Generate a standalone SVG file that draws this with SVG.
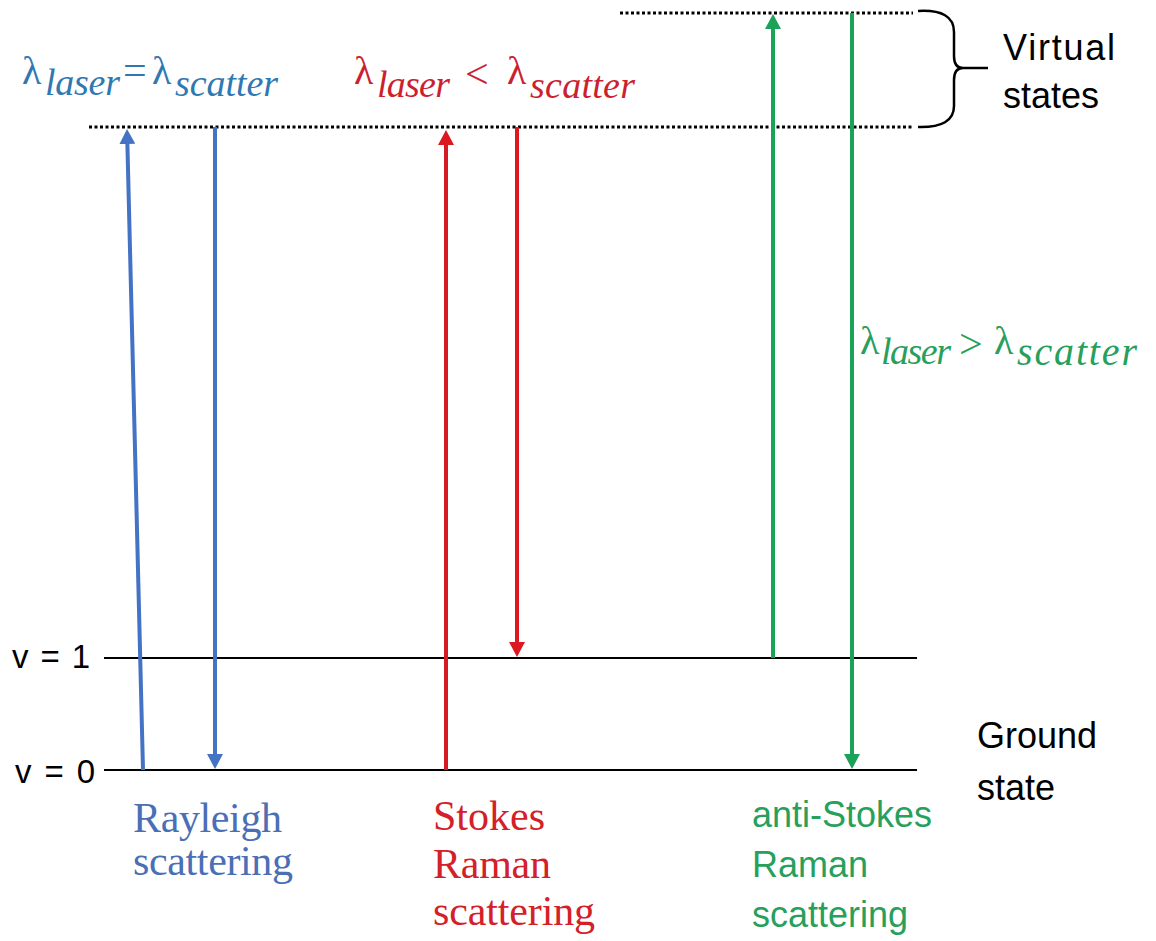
<svg xmlns="http://www.w3.org/2000/svg" width="1156" height="941" viewBox="0 0 1156 941">
<style>
.dot{stroke:#000;stroke-width:3;stroke-dasharray:3 2.5;fill:none}
.lvl{stroke:#000;stroke-width:2;fill:none}
.arr{stroke-width:4;fill:none}
.sans{font-family:"Liberation Sans",Arial,sans-serif;font-size:36px}
.serif{font-family:"Liberation Serif","Times New Roman",serif;font-size:42px}
.lam{font-family:"Liberation Serif","Times New Roman",serif;font-size:40px}
.sub{font-family:"Liberation Serif","Times New Roman",serif;font-size:38px;font-style:italic}
.op{font-family:"Liberation Serif","Times New Roman",serif;font-size:42px}
</style>
<defs>
<marker id="hb" markerUnits="userSpaceOnUse" markerWidth="16" markerHeight="16" refX="5" refY="8" orient="auto"><path d="M0,0 L15,8 L0,16 z" fill="#4472c4"/></marker>
<marker id="hr" markerUnits="userSpaceOnUse" markerWidth="16" markerHeight="16" refX="5" refY="8" orient="auto"><path d="M0,0 L15,8 L0,16 z" fill="#dc1820"/></marker>
<marker id="hg" markerUnits="userSpaceOnUse" markerWidth="16" markerHeight="16" refX="5" refY="8" orient="auto"><path d="M0,0 L15,8 L0,16 z" fill="#1ba259"/></marker>
</defs>
<rect width="1156" height="941" fill="#fff"/>

<g id="levels">
<line class="dot" x1="620" y1="13" x2="913" y2="13"/>
<line class="dot" x1="89" y1="127" x2="913" y2="127"/>
<line class="lvl" x1="104" y1="658" x2="917" y2="658"/>
<line class="lvl" x1="104" y1="770" x2="917" y2="770"/>
<path d="M918,11 Q954,9 954,32 L954,56 Q954,68 963,68 L988,68 M963,68 Q954,68 954,80 L954,106 Q954,128 918,127" stroke="#000" stroke-width="2.5" fill="none"/>
</g>

<g id="connectors">
<line class="arr" stroke="#4472c4" x1="143" y1="770" x2="127.25" y2="139" marker-end="url(#hb)"/>
<line class="arr" stroke="#4472c4" x1="215" y1="127" x2="215" y2="759" marker-end="url(#hb)"/>
<line class="arr" stroke="#d41a22" x1="446" y1="770" x2="446" y2="140" marker-end="url(#hr)"/>
<line class="arr" stroke="#dc1820" x1="517" y1="127" x2="517" y2="647" marker-end="url(#hr)"/>
<line class="arr" stroke="#1ba259" x1="773" y1="658" x2="773" y2="24" marker-end="url(#hg)"/>
<line class="arr" stroke="#1ba259" x1="852" y1="13" x2="852" y2="759" marker-end="url(#hg)"/>
</g>

<g id="label-rayleigh-eq" fill="#2f78b2">
<text class="lam" x="22" y="84">λ</text>
<text class="sub" x="45" y="95" textLength="75">laser</text>
<text class="op" x="123" y="84">=</text>
<text class="lam" x="152" y="84">λ</text>
<text class="sub" x="175" y="96" textLength="103">scatter</text>
</g>

<g id="label-stokes-eq" fill="#cc1f2f">
<text class="lam" x="354" y="84">λ</text>
<text class="sub" x="377" y="97" textLength="73">laser</text>
<text class="op" x="465" y="88">&lt;</text>
<text class="lam" x="507" y="84">λ</text>
<text class="sub" x="530" y="98" textLength="105">scatter</text>
</g>

<g id="label-antistokes-eq" fill="#27a05c">
<text class="lam" x="860" y="354">λ</text>
<text class="sub" x="881" y="364" textLength="70">laser</text>
<text class="op" x="959" y="358">&gt;</text>
<text class="lam" x="994" y="354">λ</text>
<text class="sub" x="1017" y="365" textLength="120" style="font-size:40px">scatter</text>
</g>

<g id="label-virtual" class="sans" fill="#000">
<text x="1003" y="60" textLength="112">Virtual</text>
<text x="1003" y="108">states</text>
</g>

<g id="label-ground" class="sans" fill="#000">
<text x="977" y="748">Ground</text>
<text x="977" y="800">state</text>
</g>

<g id="label-v" class="sans" fill="#000" style="font-size:33px">
<text x="12" y="668" textLength="78">v = 1</text>
<text x="15" y="783" textLength="80">v = 0</text>
</g>

<g id="label-rayleigh" class="serif" fill="#4a6fb5">
<text x="133" y="832" textLength="149">Rayleigh</text>
<text x="133" y="875" textLength="160">scattering</text>
</g>

<g id="label-stokes" class="serif" fill="#d42028">
<text x="433" y="830" textLength="112">Stokes</text>
<text x="433" y="878" textLength="118">Raman</text>
<text x="433" y="925" textLength="162">scattering</text>
</g>

<g id="label-antistokes" class="sans" fill="#27a05c">
<text x="752" y="827">anti-Stokes</text>
<text x="752" y="877">Raman</text>
<text x="752" y="927">scattering</text>
</g>
</svg>
